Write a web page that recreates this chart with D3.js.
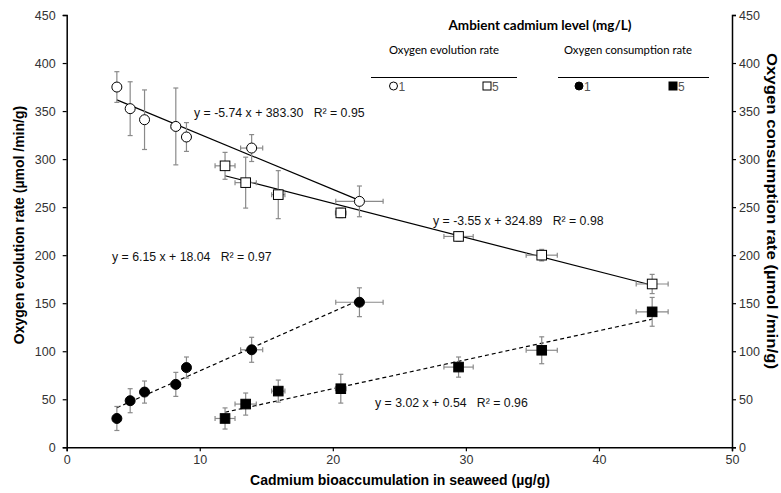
<!DOCTYPE html>
<html><head><meta charset="utf-8">
<script src="https://cdn.jsdelivr.net/npm/d3@7"></script>
<style>body{margin:0;background:#fff}svg{display:block}</style>
</head><body><svg id="c" width="781" height="493"></svg>
<script>
// ---- data ----
const xTicks = [0, 10, 20, 30, 40, 50];
const yTicks = [0, 50, 100, 150, 200, 250, 300, 350, 400, 450];
const xCd1 = [3.77, 4.77, 5.85, 8.2, 9.0, 13.9, 22.0];
const xErrCd1 = [0.2, 0.2, 0.2, 0.35, 0.3, 0.83, 1.78];
const xCd5 = [11.9, 13.45, 15.9, 20.6, 29.45, 35.7, 44.0];
const xErrCd5 = [0.75, 0.8, 0.5, 0.4, 1.1, 1.17, 1.2];
const evoCd1 = [375, 352.5, 341, 334, 323, 311.5, 256];
const evoCd1Err = [16, 28, 31, 40, 15, 14, 16];
const evoCd5 = [293, 275.5, 263, 244, 219.5, 200, 170];
const evoCd5Err = [14, 26.5, 25, 5, 5, 6, 10];
const conCd1 = [30, 48.5, 57.5, 65.5, 83, 101.5, 151];
const conCd1Err = [12.5, 12.5, 11.5, 12.5, 11, 13, 15];
const conCd5 = [30, 45, 58.5, 61, 83.5, 101, 141];
const conCd5Err = [11, 11.5, 11.5, 15, 10.5, 14, 15];
const fitSlopes = [-5.74, -3.55, 6.15, 3.02];
const fitIntercepts = [383.30, 324.89, 18.04, 0.54];
const fitLabels = ["y = -5.74 x + 383.30   R² = 0.95", "y = -3.55 x + 324.89   R² = 0.98",
                   "y = 6.15 x + 18.04   R² = 0.97", "y = 3.02 x + 0.54   R² = 0.96"];

const svg = d3.select("#c");
const x = d3.scaleLinear().domain([0, 50]).range([66.7, 732]);
const y = d3.scaleLinear().domain([0, 450]).range([447.3, 15]);
const AR = "Liberation Sans, Arial, sans-serif";
const CAL = "Lato, 'Open Sans', sans-serif";

// axes
const gx = svg.append("g").attr("transform", `translate(0,${y(0)})`)
  .call(d3.axisBottom(x).tickValues(xTicks).tickSize(4).tickPadding(4));
const gl = svg.append("g").attr("transform", `translate(${x(0)},0)`)
  .call(d3.axisLeft(y).tickValues(yTicks).tickSize(4).tickPadding(7));
const gr = svg.append("g").attr("transform", `translate(${x(50)},0)`)
  .call(d3.axisRight(y).tickValues(yTicks).tickSize(4).tickPadding(3));
[gx, gl, gr].forEach(g => {
  g.select(".domain").attr("stroke", "#000").attr("stroke-width", 1.5);
  g.selectAll(".tick line").attr("stroke", "#000").attr("stroke-width", 1.2);
  g.selectAll(".tick text").attr("font-family", AR).attr("font-size", 12.5).attr("fill", "#333");
});

// fit lines
const series = [
  {xs: xCd1, ys: evoCd1, fit: 0, dash: null},
  {xs: xCd5, ys: evoCd5, fit: 1, dash: null},
  {xs: xCd1, ys: conCd1, fit: 2, dash: "4,3"},
  {xs: xCd5, ys: conCd5, fit: 3, dash: "4,3"}
];
series.forEach(s => {
  const x0 = d3.min(s.xs), x1 = d3.max(s.xs);
  const m = fitSlopes[s.fit], b = fitIntercepts[s.fit];
  svg.append("line").attr("x1", x(x0)).attr("y1", y(m * x0 + b))
    .attr("x2", x(x1)).attr("y2", y(m * x1 + b))
    .attr("stroke", "#000").attr("stroke-width", 1.2)
    .attr("stroke-dasharray", s.dash);
});

// error bars
function errBars(xs, xe, ys, ye) {
  const g = svg.append("g").attr("stroke", "#8a8a8a").attr("stroke-width", 1.2);
  xs.forEach((xv, i) => {
    const cx = x(xv), cy = y(ys[i]);
    const t = y(ys[i] + ye[i]), bt = y(ys[i] - ye[i]);
    g.append("line").attr("x1", cx).attr("x2", cx).attr("y1", t).attr("y2", bt);
    g.append("line").attr("x1", cx - 2.5).attr("x2", cx + 2.5).attr("y1", t).attr("y2", t);
    g.append("line").attr("x1", cx - 2.5).attr("x2", cx + 2.5).attr("y1", bt).attr("y2", bt);
    const l = x(xv - xe[i]), r = x(xv + xe[i]);
    g.append("line").attr("x1", l).attr("x2", r).attr("y1", cy).attr("y2", cy);
    g.append("line").attr("x1", l).attr("x2", l).attr("y1", cy - 2.5).attr("y2", cy + 2.5);
    g.append("line").attr("x1", r).attr("x2", r).attr("y1", cy - 2.5).attr("y2", cy + 2.5);
  });
}
errBars(xCd1, xErrCd1, evoCd1, evoCd1Err);
errBars(xCd5, xErrCd5, evoCd5, evoCd5Err);
errBars(xCd1, xErrCd1, conCd1, conCd1Err);
errBars(xCd5, xErrCd5, conCd5, conCd5Err);

// markers
function circles(xs, ys, fill) {
  svg.append("g").selectAll("circle").data(xs).join("circle")
    .attr("cx", d => x(d)).attr("cy", (d, i) => y(ys[i])).attr("r", 5)
    .attr("fill", fill).attr("stroke", "#000").attr("stroke-width", 1);
}
function squares(xs, ys, fill) {
  svg.append("g").selectAll("rect").data(xs).join("rect")
    .attr("x", d => x(d) - 4.8).attr("y", (d, i) => y(ys[i]) - 4.8)
    .attr("width", 9.6).attr("height", 9.6)
    .attr("fill", fill).attr("stroke", "#000").attr("stroke-width", 1);
}
circles(xCd1, evoCd1, "#fff");
squares(xCd5, evoCd5, "#fff");
circles(xCd1, conCd1, "#000");
squares(xCd5, conCd5, "#000");

// equation labels
const eqPos = [[194, 117], [433, 225], [112, 261], [375, 407]];
fitLabels.forEach((t, i) => {
  svg.append("text").attr("x", eqPos[i][0]).attr("y", eqPos[i][1])
    .attr("font-family", AR).attr("font-size", 12.3).attr("fill", "#111")
    .attr("xml:space", "preserve").style("white-space", "pre").text(t);
});

// axis titles
svg.append("text").attr("x", 400).attr("y", 485).attr("text-anchor", "middle")
  .attr("font-family", AR).attr("font-weight", "bold").attr("font-size", 14)
  .text("Cadmium bioaccumulation in seaweed (µg/g)");
svg.append("text").attr("transform", "translate(24,225) rotate(-90)").attr("text-anchor", "middle")
  .attr("font-family", AR).attr("font-weight", "bold").attr("font-size", 14)
  .text("Oxygen evolution rate (µmol /min/g)");
svg.append("text").attr("transform", "translate(767,211) rotate(90)").attr("text-anchor", "middle")
  .attr("font-family", AR).attr("font-weight", "bold").attr("font-size", 14)
  .attr("textLength", 316).attr("lengthAdjust", "spacingAndGlyphs")
  .text("Oxygen consumption rate (µmol /min/g)");

// legend
const lg = svg.append("g");
lg.append("text").attr("x", 540).attr("y", 30).attr("text-anchor", "middle")
  .attr("font-family", CAL).attr("font-weight", "bold").attr("font-size", 13.5).text("Ambient cadmium level (mg/L)");
lg.append("text").attr("x", 444).attr("y", 54).attr("text-anchor", "middle")
  .attr("font-family", CAL).attr("font-size", 11.3).text("Oxygen evolution rate");
lg.append("text").attr("x", 628).attr("y", 54).attr("text-anchor", "middle")
  .attr("font-family", CAL).attr("font-size", 11.3).text("Oxygen consumption rate");
lg.append("line").attr("x1", 371).attr("x2", 517).attr("y1", 77.5).attr("y2", 77.5).attr("stroke", "#000");
lg.append("line").attr("x1", 558).attr("x2", 709).attr("y1", 77.5).attr("y2", 77.5).attr("stroke", "#000");
const legItems = [
  {sx: 393.5, shape: "c", fill: "#fff", label: "1"},
  {sx: 487, shape: "s", fill: "#fff", label: "5"},
  {sx: 579, shape: "c", fill: "#000", label: "1"},
  {sx: 673, shape: "s", fill: "#000", label: "5"}
];
legItems.forEach(d => {
  if (d.shape === "c") lg.append("circle").attr("cx", d.sx).attr("cy", 86).attr("r", 4)
    .attr("fill", d.fill).attr("stroke", "#000");
  else lg.append("rect").attr("x", d.sx - 4).attr("y", 82).attr("width", 8).attr("height", 8)
    .attr("fill", d.fill).attr("stroke", "#000");
  lg.append("text").attr("x", d.sx + 5).attr("y", 90.5).attr("font-family", AR)
    .attr("font-size", 12).attr("fill", "#555").text(d.label);
});
</script></body></html>
